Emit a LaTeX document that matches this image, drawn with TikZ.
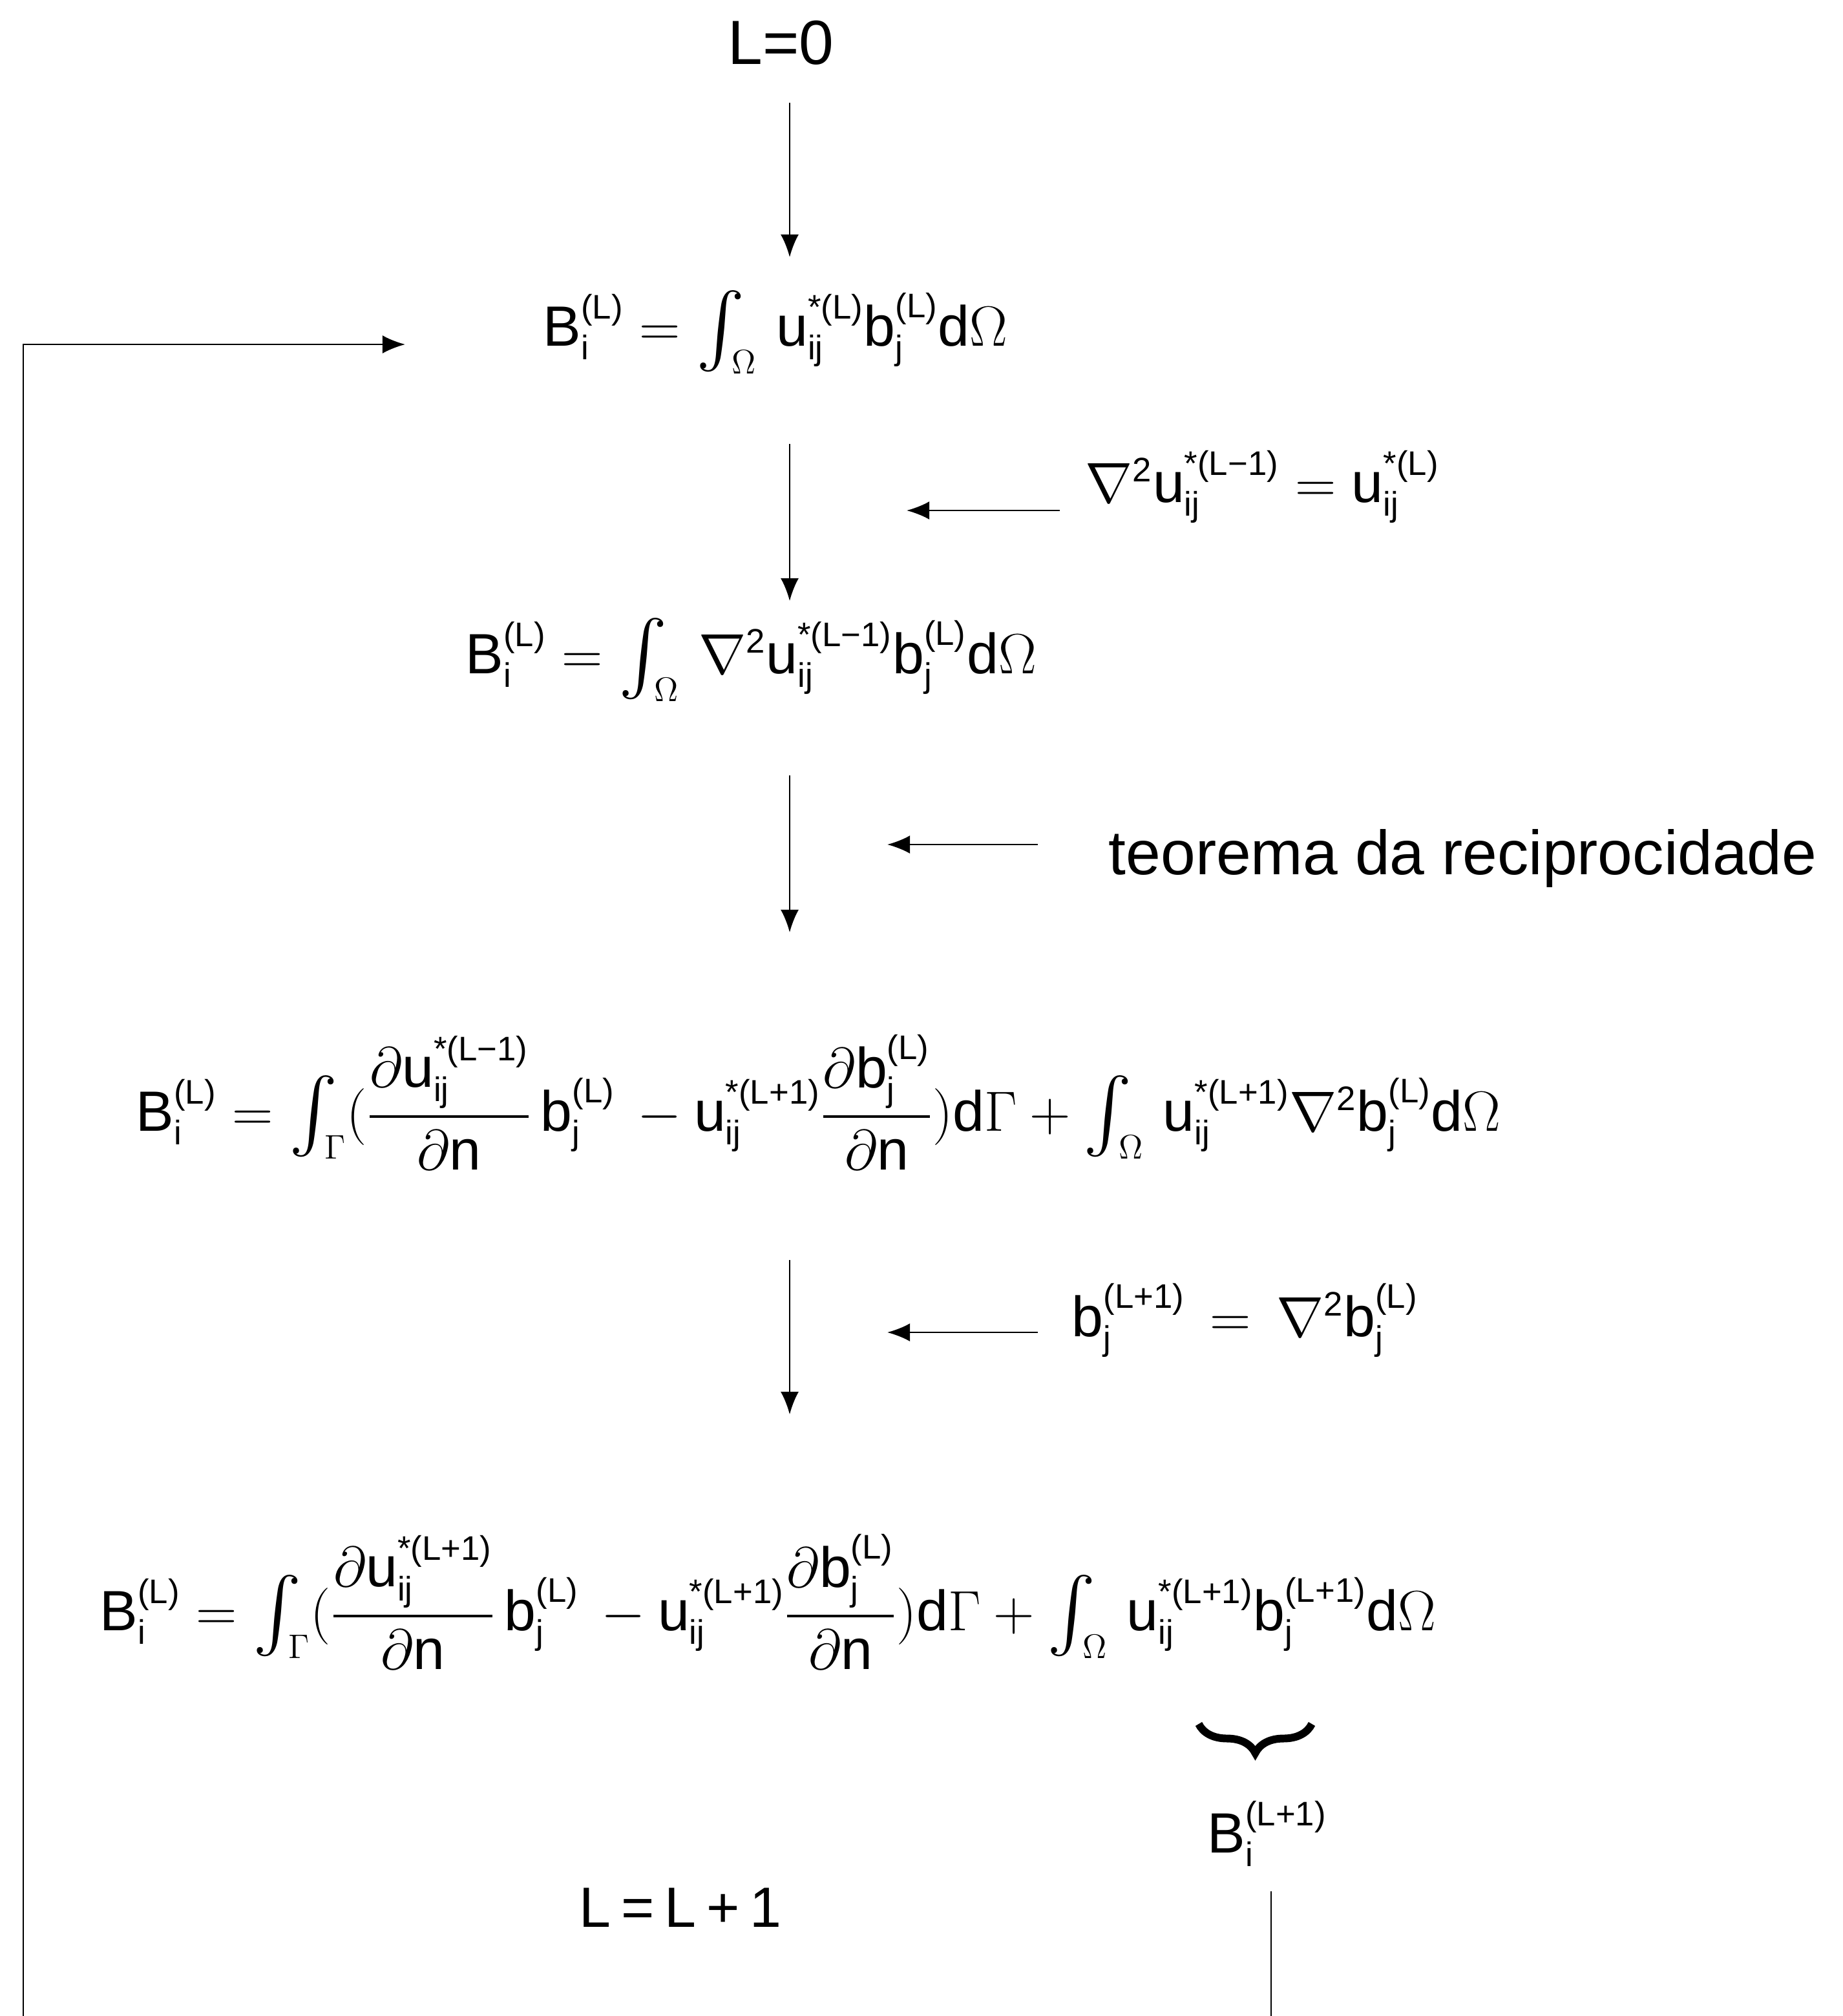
\documentclass[tikz,border=0pt]{standalone}
\usepackage{fix-cm}
\usepackage{amsmath}
\usepackage{fontspec}
\setmainfont{Liberation Sans}
\usetikzlibrary{arrows.meta,decorations.pathreplacing}
\DeclareMathSizes{25}{25}{15}{11}
\newcommand\tx[1]{\text{#1}}
\newcommand\myB[1]{\tx{B}_{\tx{i}}^{\tx{(#1)}}}
\newcommand\myb[1]{\tx{b}_{\tx{j}}^{\tx{(#1)}}}
\newcommand\myu[1]{\tx{u}_{\tx{ij}}^{\tx{*(#1)}}}
\newcommand\myintbase[1]{\mathop{\vcenter{\hbox{\scalebox{1.3}{$\int$}}}}\nolimits_{\mkern-7mu #1}}
\newcommand\myint[1]{\myintbase{#1}\,}
\newcommand\lap{\nabla^{\tx{2}}}
\tikzset{
  eq/.style={inner sep=0pt, anchor=base west, font=\fontsize{25}{30}\selectfont},
  big/.style={inner sep=0pt, anchor=base west, font=\fontsize{27.5}{33}\selectfont},
  arr/.style={-{Latex[length=10pt,width=8pt]}, line width=0.8pt},
  plainline/.style={line width=0.8pt},
  bracestyle/.style={decorate, decoration={brace, mirror, amplitude=0.45cm}, line width=3.4pt},
}
\begin{document}
\begin{tikzpicture}
\useasboundingbox (0,0) rectangle (28.52,-31.20);
% nodes
\node[big] (l0) at (11.26,-0.99) {L=0};
\node[eq] (e1) at (8.40,-5.35) {$\myB{L} = \myint{\Omega}\myu{L}\myb{L}\tx{d}\Omega$};
\node[eq] (s2) at (16.79,-7.77) {$\lap\myu{L−1} = \myu{L}$};
\node[eq] (e2) at (7.20,-10.42) {$\myB{L} = \myint{\Omega}\lap\myu{L−1}\myb{L}\tx{d}\Omega$};
\node[big] (s3) at (17.15,-13.53) {teorema da reciprocidade};
\node[eq] (e3) at (2.10,-17.50) {$\myB{L} = \myintbase{\Gamma}(\dfrac{\partial\myu{L−1}}{\partial\tx{n}}\,\myb{L}\, - \myu{L+1}\dfrac{\partial\myb{L}}{\partial\tx{n}})\tx{d}\Gamma + \myint{\Omega}\myu{L+1}\lap\myb{L}\tx{d}\Omega$};
\node[eq] (s4) at (16.58,-20.68) {$\myb{L+1}\, = \,\lap\myb{L}$};
\node[eq] (e4) at (1.54,-25.23) {$\myB{L} = \myintbase{\Gamma}(\dfrac{\partial\myu{L+1}}{\partial\tx{n}}\,\myb{L}\, - \myu{L+1}\dfrac{\partial\myb{L}}{\partial\tx{n}})\tx{d}\Gamma + \myint{\Omega}\myu{L+1}\myb{L+1}\tx{d}\Omega$};
\node[eq] (bn) at (18.68,-28.67) {$\myB{L+1}$};
\node[eq] (ll) at (8.96,-29.82) {L\hspace{4.5pt}=\hspace{4.5pt}L\hspace{4.5pt}+\hspace{4.5pt}1};
% connector end points
\coordinate (a1t) at (12.22,-1.59);  \coordinate (a1b) at (12.22,-3.98);
\coordinate (a2t) at (12.22,-6.87);  \coordinate (a2b) at (12.22,-9.30);
\coordinate (a3t) at (12.22,-12.00); \coordinate (a3b) at (12.22,-14.43);
\coordinate (a4t) at (12.22,-19.50); \coordinate (a4b) at (12.22,-21.89);
\coordinate (s2r) at (16.40,-7.90);  \coordinate (s2l) at (14.03,-7.90);
\coordinate (s3r) at (16.06,-13.07); \coordinate (s3l) at (13.73,-13.07);
\coordinate (s4r) at (16.06,-20.62); \coordinate (s4l) at (13.73,-20.62);
\coordinate (lpb) at (0.36,-31.20);  \coordinate (lpc) at (0.36,-5.33); \coordinate (lpt) at (6.27,-5.33);
\coordinate (rt) at (19.67,-29.27);  \coordinate (rb) at (19.67,-31.20);
\coordinate (brl) at (18.55,-26.68); \coordinate (brr) at (20.30,-26.68);
% connectors
\draw[arr] (a1t) -- (a1b);
\draw[arr] (a2t) -- (a2b);
\draw[arr] (a3t) -- (a3b);
\draw[arr] (a4t) -- (a4b);
\draw[arr] (s2r) -- (s2l);
\draw[arr] (s3r) -- (s3l);
\draw[arr] (s4r) -- (s4l);
\draw[arr] (lpb) -- (lpc) -- (lpt);
\draw[plainline] (rt) -- (rb);
\draw[bracestyle] (brl) -- (brr);
\end{tikzpicture}
\end{document}
